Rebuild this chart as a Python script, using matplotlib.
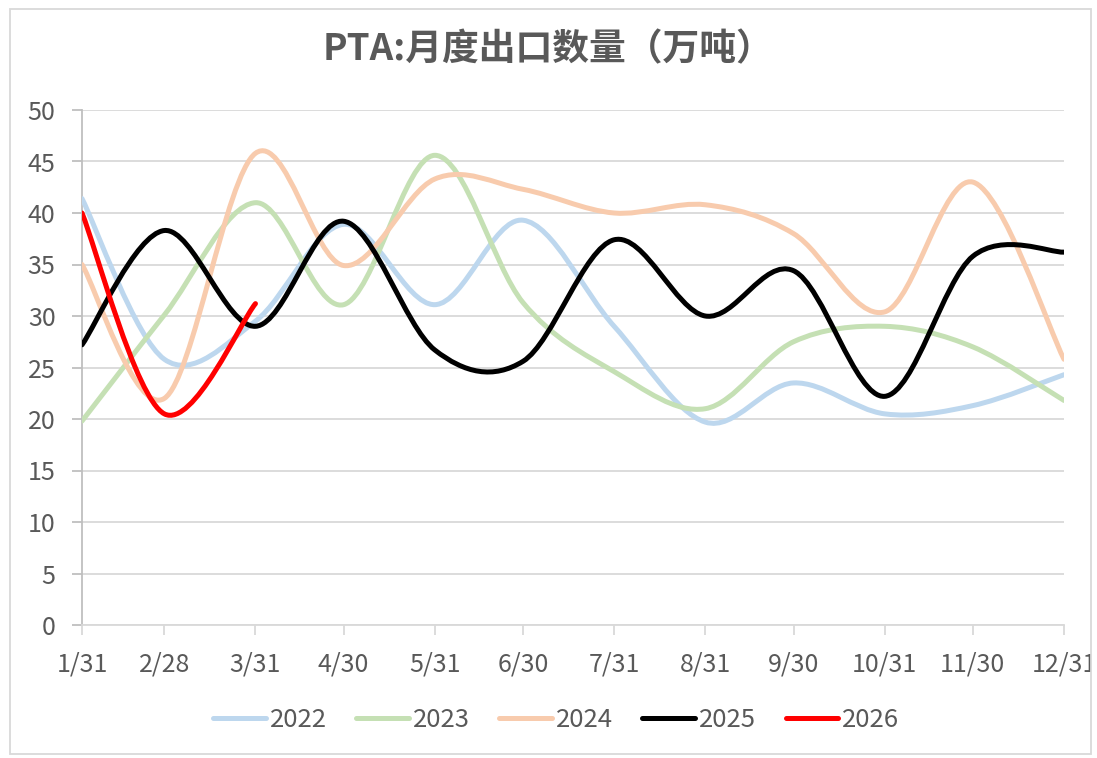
import numpy as np
import matplotlib
matplotlib.use("Agg")
import matplotlib.pyplot as plt
import matplotlib.dates as mdates
from matplotlib.path import Path
from matplotlib.patches import PathPatch, Rectangle
from matplotlib.lines import Line2D
from matplotlib.transforms import Bbox, TransformedBbox

plt.rcParams['font.family'] = ['Noto Sans CJK SC', 'DejaVu Sans']

# month-end categories (date axis, so spacing follows days)
month_labels = ["1/31", "2/28", "3/31", "4/30", "5/31", "6/30",
                "7/31", "8/31", "9/30", "10/31", "11/30", "12/31"]
month_dates = ["2025-01-31", "2025-02-28", "2025-03-31", "2025-04-30",
               "2025-05-31", "2025-06-30", "2025-07-31", "2025-08-31",
               "2025-09-30", "2025-10-31", "2025-11-30", "2025-12-31"]

y2022 = [41.4, 25.8, 29.5, 38.9, 31.1, 39.3, 29.0, 19.7, 23.5, 20.5, 21.3, 24.3]
y2023 = [19.8, 30.1, 41.0, 31.1, 45.6, 31.3, 24.6, 21.0, 27.5, 29.0, 27.0, 21.8]
y2024 = [35.0, 22.0, 45.8, 34.9, 43.3, 42.3, 40.0, 40.8, 38.0, 30.4, 43.0, 25.8]
y2025 = [27.2, 38.3, 29.0, 39.2, 26.7, 25.6, 37.4, 30.0, 34.4, 22.2, 35.8, 36.2]
y2026 = [40.0, 20.5, 31.2]

series = [("2022", y2022, "#BDD7EE"),
          ("2023", y2023, "#C5E0B4"),
          ("2024", y2024, "#F8CBAD"),
          ("2025", y2025, "#000000"),
          ("2026", y2026, "#FF0000")]

grey = "#595959"


def smooth_path(xs, ys):
    # Excel-style smoothed line: cubic Bezier through the points
    pts = np.column_stack([xs, ys])
    n = len(pts)
    verts = [pts[0]]
    codes = [Path.MOVETO]
    for i in range(n - 1):
        p0 = pts[max(i - 1, 0)]
        p1 = pts[i]
        p2 = pts[i + 1]
        p3 = pts[min(i + 2, n - 1)]
        c1 = p1 + (p2 - p0) / 6.0
        c2 = p2 - (p3 - p1) / 6.0
        verts += [c1, c2, p2]
        codes += [Path.CURVE4] * 3
    return Path(verts, codes)


x = mdates.date2num(np.array(month_dates, dtype="datetime64[D]"))

fig = plt.figure(figsize=(10.97, 7.58), dpi=100)
ax = fig.add_axes([82 / 1097, 1 - 625 / 758, (1064 - 82) / 1097, (625 - 110) / 758])

handles = []
for name, vals, col in series:
    p = smooth_path(x[:len(vals)], vals)
    ax.add_patch(PathPatch(p, facecolor="none", edgecolor=col, lw=3.6,
                           capstyle="round", joinstyle="round", zorder=3))
    handles.append(Line2D([], [], color=col, lw=3.6, solid_capstyle="round"))

ax.set_xlim(x[0], x[-1])
ax.set_ylim(0, 50)
ax.set_yticks(np.arange(0, 51, 5))
ax.set_xticks(x)
ax.set_xticklabels(month_labels)

ax.grid(axis="y", color="#D9D9D9", lw=1.3)
ax.set_axisbelow(True)
for s in ["top", "right"]:
    ax.spines[s].set_visible(False)
ax.spines["left"].set_color("#BFBFBF")
ax.spines["bottom"].set_color("#D9D9D9")
ax.spines["left"].set_linewidth(1.3)
ax.spines["bottom"].set_linewidth(1.3)
ax.tick_params(axis="y", colors="#BFBFBF", length=7, width=1.3, labelcolor=grey,
               labelsize=18, pad=12)
ax.tick_params(axis="x", colors="#D9D9D9", length=7, width=1.3, labelcolor=grey,
               labelsize=18, pad=12)

clip = TransformedBbox(Bbox([[0, 0], [1091 / 1097, 1]]), fig.transFigure)
for lbl in ax.get_xticklabels():
    lbl.set_clip_box(clip)
    lbl.set_clip_on(True)

fig.text(0.5, 1 - 50 / 758, "PTA:月度出口数量（万吨）", ha="center", va="center",
         fontsize=26.5, fontweight="bold", color=grey)

fig.legend(handles, [s[0] for s in series], loc="center", ncol=5,
           bbox_to_anchor=(0.507, 1 - 720 / 758), frameon=False, fontsize=18.5,
           labelcolor=grey, handlelength=2.05, handletextpad=0.15, columnspacing=1.15)

fig.add_artist(Rectangle((10 / 1097, 4 / 758), 1081 / 1097, 745 / 758,
                         transform=fig.transFigure, fill=False,
                         edgecolor="#D9D9D9", lw=1.3))

fig.savefig("out.png", dpi=100)
